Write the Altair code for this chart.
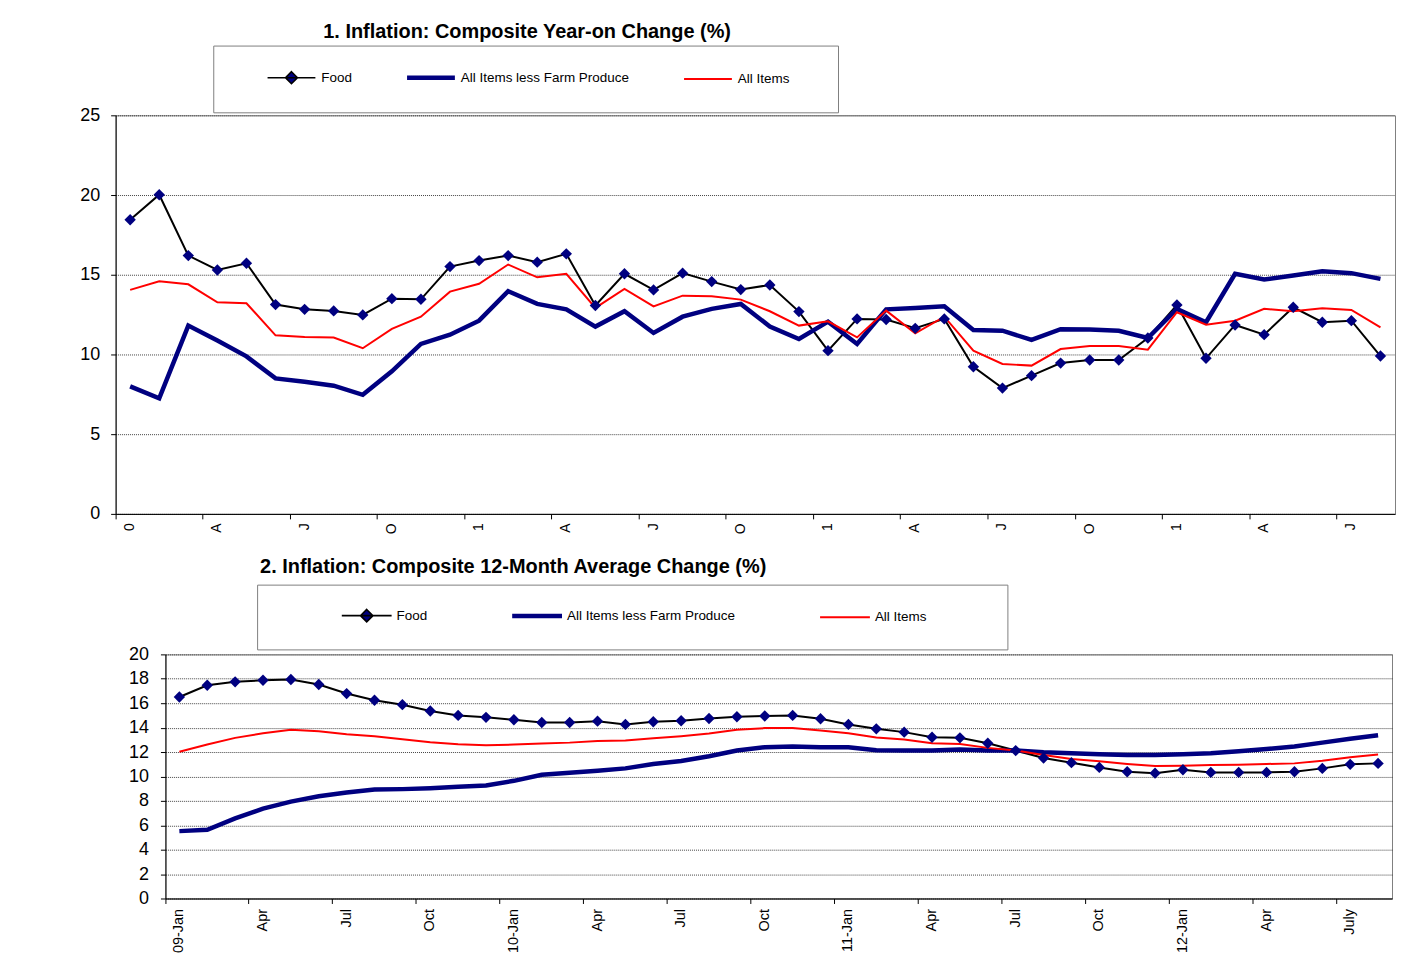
import json
import altair as alt
import pandas as pd

# ---------------- data ----------------
MONTHS = [
    "2009-01", "2009-02", "2009-03", "2009-04", "2009-05", "2009-06",
    "2009-07", "2009-08", "2009-09", "2009-10", "2009-11", "2009-12",
    "2010-01", "2010-02", "2010-03", "2010-04", "2010-05", "2010-06",
    "2010-07", "2010-08", "2010-09", "2010-10", "2010-11", "2010-12",
    "2011-01", "2011-02", "2011-03", "2011-04", "2011-05", "2011-06",
    "2011-07", "2011-08", "2011-09", "2011-10", "2011-11", "2011-12",
    "2012-01", "2012-02", "2012-03", "2012-04", "2012-05", "2012-06",
    "2012-07", "2012-08",
]
TICK_MONTHS = [
    "2009-01", "2009-04", "2009-07", "2009-10",
    "2010-01", "2010-04", "2010-07", "2010-10",
    "2011-01", "2011-04", "2011-07", "2011-10",
    "2012-01", "2012-04", "2012-07",
]
TICK_LABELS = ["09-Jan", "Apr", "Jul", "Oct", "10-Jan", "Apr", "Jul", "Oct",
               "11-Jan", "Apr", "Jul", "Oct", "12-Jan", "Apr", "July"]

SERIES = ["Food", "All Items less Farm Produce", "All Items"]

# Chart 1: year-on change (%)
FOOD_YOY = [18.45, 20.02, 16.2, 15.3, 15.72, 13.13, 12.83, 12.73, 12.48, 13.5, 13.46,
            15.51, 15.89, 16.2, 15.79, 16.31, 13.07, 15.06, 14.05, 15.1, 14.57, 14.07,
            14.36, 12.69, 10.24, 12.23, 12.19, 11.64, 12.23, 9.23, 7.89, 8.67, 9.46,
            9.65, 9.65, 11.03, 13.1, 9.76, 11.85, 11.24, 12.96, 12.02, 12.12, 9.9]
CORE_YOY = [8.0, 7.25, 11.81, 10.87, 9.88, 8.5, 8.29, 8.04, 7.47, 8.94, 10.66,
            11.24, 12.12, 13.97, 13.17, 12.83, 11.75, 12.71, 11.35, 12.37, 12.86, 13.17,
            11.75, 10.97, 12.06, 10.66, 12.83, 12.92, 13.02, 11.54, 11.49, 10.91, 11.58,
            11.56, 11.49, 11.03, 12.86, 12.02, 15.06, 14.7, 14.95, 15.22, 15.1, 14.74]
ALL_YOY = [14.05, 14.59, 14.4, 13.27, 13.21, 11.2, 11.1, 11.06, 10.39, 11.6, 12.37,
           13.94, 14.43, 15.64, 14.84, 15.06, 12.92, 14.11, 13.02, 13.69, 13.65, 13.44,
           12.71, 11.81, 12.08, 11.07, 12.75, 11.33, 12.37, 10.24, 9.4, 9.3, 10.34,
           10.53, 10.53, 10.3, 12.65, 11.87, 12.12, 12.86, 12.71, 12.9, 12.79, 11.7]

# Chart 2: 12-month average change (%)
FOOD_AVG = [16.51, 17.47, 17.75, 17.88, 17.94, 17.53, 16.79, 16.24, 15.88, 15.36, 15.0,
            14.84, 14.64, 14.42, 14.42, 14.53, 14.26, 14.48, 14.56, 14.75, 14.89, 14.95,
            15.0, 14.73, 14.26, 13.9, 13.63, 13.21, 13.16, 12.72, 12.12, 11.51, 11.13,
            10.74, 10.38, 10.27, 10.55, 10.33, 10.33, 10.33, 10.38, 10.66, 10.99, 11.07]
CORE_AVG = [5.52, 5.63, 6.57, 7.36, 7.94, 8.38, 8.68, 8.93, 8.96, 9.04, 9.15,
            9.26, 9.64, 10.14, 10.3, 10.47, 10.66, 11.02, 11.26, 11.65, 12.12, 12.39,
            12.45, 12.39, 12.39, 12.14, 12.12, 12.12, 12.2, 12.12, 12.12, 11.98, 11.9,
            11.81, 11.76, 11.76, 11.81, 11.9, 12.06, 12.25, 12.45, 12.77, 13.08, 13.38]
ALL_AVG = [12.03, 12.61, 13.16, 13.54, 13.82, 13.71, 13.46, 13.3, 13.05, 12.8, 12.64,
           12.55, 12.61, 12.69, 12.77, 12.91, 12.94, 13.13, 13.3, 13.52, 13.82, 13.96,
           13.96, 13.76, 13.54, 13.19, 13.02, 12.72, 12.66, 12.34, 12.12, 11.76, 11.43,
           11.24, 11.02, 10.85, 10.88, 10.93, 10.96, 11.02, 11.07, 11.29, 11.57, 11.79]

TITLE_1 = "1. Inflation: Composite Year-on Change (%)"
TITLE_2 = "2. Inflation: Composite 12-Month Average Change (%)"

# ---------------- styling ----------------
FONT = "Liberation Sans"
NAVY = "#000080"
COLORS = ["black", NAVY, "red"]
FOOD_PATH = "M-1,0L1,0M0,-0.25L0.25,0L0,0.25L-0.25,0Z"


def long_df(food, core, allv):
    rows = []
    for name, vals in zip(SERIES, [food, core, allv]):
        for m, v in zip(MONTHS, vals):
            rows.append({"month": m, "series": name, "value": v})
    return pd.DataFrame(rows)


def make_legend(lx, ly, pad, soff, cpad, loff, ssize, nspaces):
    # trailing blank room after the last entry (zero-width char keeps it from being trimmed)
    tail = " " * nspaces + "\u200b"
    label_expr = "datum.label === 'All Items' ? datum.label + '" + tail + "' : datum.label"
    return alt.Legend(
        orient="none", legendX=lx, legendY=ly, direction="horizontal",
        title=None, padding=pad, columnPadding=cpad, labelOffset=loff,
        symbolOffset=soff, symbolSize=ssize,
        strokeColor="#808080", fillColor="white",
        labelFont=FONT, labelFontSize=13.5, labelColor="black", labelLimit=0,
        labelExpr=label_expr,
        symbolType={"expr": "datum.value === 'Food' ? '" + FOOD_PATH + "' : 'stroke'"},
        symbolFillColor={"expr": "datum.value === 'Food' ? '" + NAVY + "' : 'transparent'"},
        symbolStrokeWidth={"expr": "datum.value === 'All Items less Farm Produce' ? 4.5 : (datum.value === 'Food' ? 1.6 : 2)"},
        symbolOpacity=1,
    )


def panel(df, title_text, title_dx, title_offset, y_max, y_step, width, height,
          label_expr, x_font, x_pad, y_pad, legend):
    x = alt.X(
        "month:O",
        scale=alt.Scale(type="band", domain=MONTHS, paddingInner=0, paddingOuter=0),
        bandPosition=0.5,
        axis=alt.Axis(values=TICK_MONTHS, labelExpr=label_expr, labelAngle=270,
                      bandPosition=0, title=None, grid=False, labelOverlap=False,
                      labelFontSize=x_font, labelFont=FONT, labelColor="black",
                      labelPadding=x_pad, tickSize=5, tickColor="black",
                      domainColor="black"),
    )
    y = alt.Y(
        "value:Q",
        scale=alt.Scale(domain=[0, y_max], nice=False, zero=True),
        axis=alt.Axis(values=list(range(0, y_max + 1, y_step)), title=None,
                      grid=True, gridColor="#303030", gridDash=[1, 1], gridOpacity=0.9,
                      domainColor="black", tickColor="black", tickSize=5,
                      labelFontSize=18, labelFont=FONT, labelColor="black",
                      labelPadding=y_pad),
    )
    lines = alt.Chart(df).mark_line(strokeJoin="miter").encode(
        x=x, y=y,
        color=alt.Color("series:N", scale=alt.Scale(domain=SERIES, range=COLORS),
                        legend=legend),
        strokeWidth=alt.condition("datum.series === 'All Items less Farm Produce'",
                                  alt.value(4.5), alt.value(2)),
    )
    pts = alt.Chart(df[df["series"] == "Food"]).mark_point(
        shape="diamond", filled=True, size=130, color=NAVY, opacity=1
    ).encode(x=x, y=y)
    return alt.layer(lines, pts).properties(
        width=width, height=height,
        title=alt.TitleParams(title_text, anchor="start", frame="group", align="center",
                              dx=title_dx, fontSize=20, font=FONT, fontWeight="bold",
                              color="black", baseline="bottom", offset=title_offset),
    )


months_js = json.dumps(TICK_MONTHS)
labels_js = json.dumps(TICK_LABELS)
idx = "indexof(" + months_js + ", datum.value)"
full_label = "(" + idx + " >= 0) ? " + labels_js + "[" + idx + "] : ''"
short_label = "(" + idx + " >= 0) ? substring(" + labels_js + "[" + idx + "], 0, 1) : ''"

top = panel(long_df(FOOD_YOY, CORE_YOY, ALL_YOY), TITLE_1, 413, -17, 25, 5, 1284, 400,
            short_label, 14, 4, 11,
            make_legend(98, -70, 25.5, 46.25, 26, 23.25, 2304, 6))
bottom = panel(long_df(FOOD_AVG, CORE_AVG, ALL_AVG), TITLE_2, 349, -13, 20, 2, 1231, 245,
               full_label, 14.5, 5, 12,
               make_legend(92, -70, 24, 79.25, 24, 23.25, 2500, 15))

spacer = alt.Chart(pd.DataFrame({"v": [0]})).mark_point(opacity=0).properties(
    width=11, height=1, view=alt.ViewBackground(stroke="transparent"))

lower = alt.hconcat(spacer, bottom, spacing=0).resolve_scale(
    color="independent").resolve_legend(color="independent")

chart = alt.vconcat(
    top,
    lower,
    spacing=22,
).resolve_scale(color="independent").resolve_legend(color="independent").properties(
    padding={"left": 71, "top": 12, "right": 0, "bottom": 0},
).configure(font=FONT).configure_view(stroke="#808080", strokeWidth=1)

chart.save("out.html", embed_options={"renderer": "svg", "actions": False})
